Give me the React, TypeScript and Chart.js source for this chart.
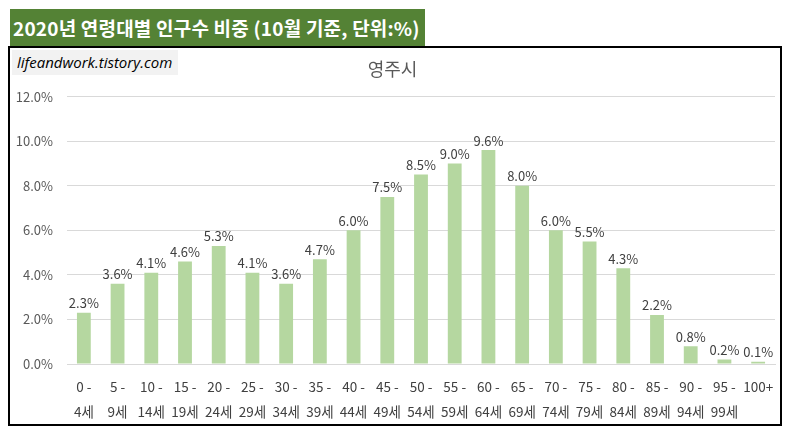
import { useEffect, useRef } from "react"
import { Chart, registerables } from "chart.js"

Chart.register(...registerables)

const ageFrom = ["0 -", "5 -", "10 -", "15 -", "20 -", "25 -", "30 -", "35 -", "40 -", "45 -", "50 -", "55 -", "60 -", "65 -", "70 -", "75 -", "80 -", "85 -", "90 -", "95 -", "100+"]
const ageTo = ["4세", "9세", "14세", "19세", "24세", "29세", "34세", "39세", "44세", "49세", "54세", "59세", "64세", "69세", "74세", "79세", "84세", "89세", "94세", "99세", ""]
const shares = [2.3, 3.6, 4.1, 4.6, 5.3, 4.1, 3.6, 4.7, 6.0, 7.5, 8.5, 9.0, 9.6, 8.0, 6.0, 5.5, 4.3, 2.2, 0.8, 0.2, 0.1]
const yTicks = [0, 2, 4, 6, 8, 10, 12]

const FONT = '"Noto Sans CJK KR", "Noto Sans", sans-serif'

// draws the value labels above each bar
const valueLabels = {
  id: "valueLabels",
  afterDatasetsDraw(chart: Chart) {
    const ctx = chart.ctx
    const meta = chart.getDatasetMeta(0)
    ctx.save()
    ctx.font = `13px ${FONT}`
    ctx.fillStyle = "#404040"
    ctx.textAlign = "center"
    ctx.textBaseline = "bottom"
    meta.data.forEach((bar, i) => {
      ctx.fillText(shares[i].toFixed(1) + "%", bar.x, bar.y - 3)
    })
    ctx.restore()
  },
}

export function AgeChart() {
  const chartRef = useRef<HTMLCanvasElement>(null)
  const chartInstance = useRef<Chart | null>(null)

  useEffect(() => {
    if (!chartRef.current) return
    const ctx = chartRef.current.getContext("2d")
    if (!ctx) return
    if (chartInstance.current) chartInstance.current.destroy()

    chartInstance.current = new Chart(ctx, {
      type: "bar",
      data: {
        labels: ageFrom.map((a, i) => (ageTo[i] ? [a, ageTo[i]] : [a])),
        datasets: [
          {
            label: "영주시",
            data: shares,
            backgroundColor: "#b5d7a0",
            categoryPercentage: 1,
            barPercentage: 0.41,
          },
        ],
      },
      options: {
        animation: false,
        responsive: false,
        layout: { padding: { left: 0, right: 5, top: 0, bottom: 0 } },
        plugins: {
          legend: { display: false },
          tooltip: { enabled: false },
          title: {
            display: true,
            text: "영주시",
            color: "#595959",
            font: { family: FONT, size: 18, weight: "normal", lineHeight: 1.2 },
            padding: { top: 10, bottom: 17 },
          },
        },
        scales: {
          x: {
            grid: { display: false },
            border: { color: "#d9d9d9" },
            ticks: {
              color: "#404040",
              font: { family: FONT, size: 13.5, lineHeight: 1.85 },
              padding: 2,
              maxRotation: 0,
              autoSkip: false,
            },
            afterFit: (scale: any) => {
              scale.height = 60
            },
          },
          y: {
            min: 0,
            max: 12,
            afterBuildTicks: (scale: any) => {
              scale.ticks = yTicks.map((v) => ({ value: v }))
            },
            border: { display: false },
            grid: { color: "#d9d9d9", drawTicks: false },
            ticks: {
              color: "#595959",
              font: { family: FONT, size: 13 },
              padding: 14,
              callback: (v: any) => Number(v).toFixed(1) + "%",
            },
            afterFit: (scale: any) => {
              scale.width = 57
            },
          },
        },
      },
      plugins: [valueLabels],
    })

    return () => {
      if (chartInstance.current) {
        chartInstance.current.destroy()
        chartInstance.current = null
      }
    }
  }, [])

  return <canvas ref={chartRef} width={770} height={376} style={{ display: "block" }} />
}

export default function App() {
  return (
    <div style={{ position: "absolute", left: 0, top: 0, width: 788, height: 434, background: "#fff", fontFamily: FONT }}>
      <div
        style={{
          position: "absolute",
          left: 10,
          top: 9,
          width: 415,
          height: 38,
          background: "#548235",
          color: "#fff",
          fontWeight: "bold",
          fontSize: 19,
          letterSpacing: 0.2,
          lineHeight: "38px",
          paddingLeft: 3,
          boxSizing: "border-box",
          whiteSpace: "nowrap",
        }}
      >
        2020년 연령대별 인구수 비중 (10월 기준, 단위:%)
      </div>
      <div
        style={{
          position: "absolute",
          left: 8,
          top: 46,
          width: 774,
          height: 380,
          border: "2px solid #000",
          boxSizing: "border-box",
        }}
      >
        <AgeChart />
        <div
          style={{
            position: "absolute",
            left: 2,
            top: 2,
            width: 166,
            height: 25,
            background: "#f2f2f2",
            color: "#000",
            fontStyle: "italic",
            fontSize: 15,
            lineHeight: "24px",
            paddingLeft: 5,
            boxSizing: "border-box",
            whiteSpace: "nowrap",
            fontFamily: '"Open Sans", sans-serif',
          }}
        >
          lifeandwork.tistory.com
        </div>
      </div>
    </div>
  )
}
